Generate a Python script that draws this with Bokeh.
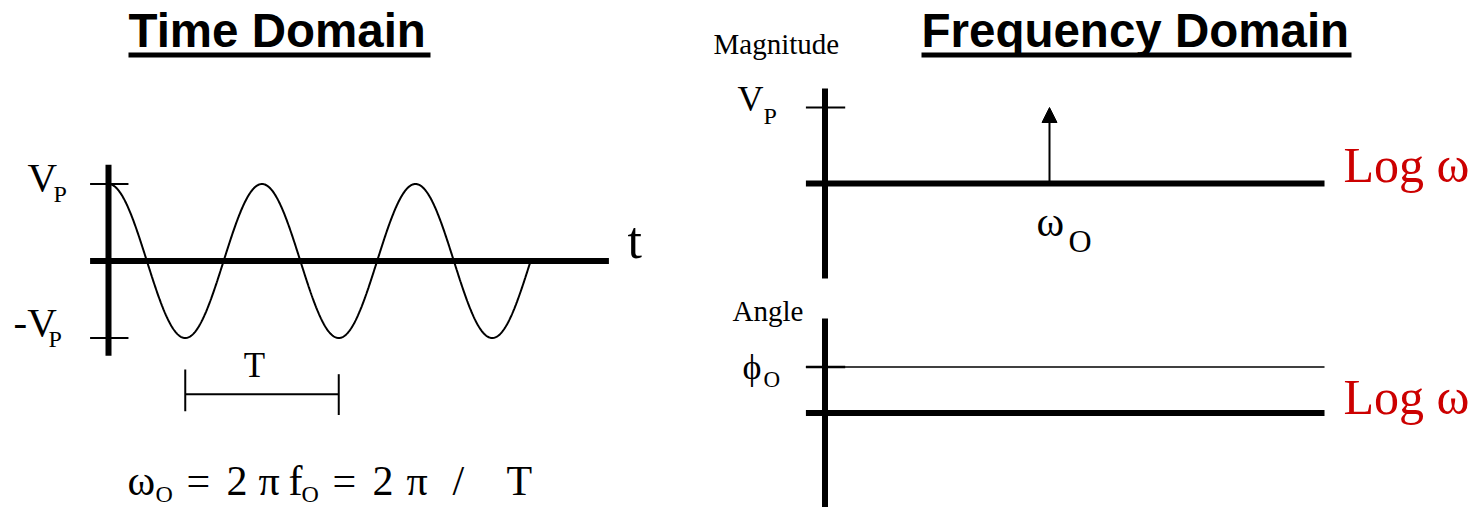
import numpy as np
from bokeh.plotting import figure
from bokeh.models import Range1d, Arrow, NormalHead
from bokeh.core.properties import value
from bokeh.embed import file_html
from bokeh.resources import INLINE

# ---------------- data (chart units) ----------------
VP = 1.0                  # peak amplitude
PERIOD = 1.0              # T
N_CYCLES = 2.75           # cycles drawn in the time domain
OMEGA_0_LOG = 2.0         # log10(omega_0): position of the spectral line
MAG_AT_OMEGA_0 = VP       # height of the spectral line
PHI_0 = 45.0              # constant phase angle (deg)

TITLES = ["Time Domain", "Frequency Domain"]
FORMULA_TOKENS = ["ω", "=", "2", "π", "f", "=", "2", "π", "/", "T"]
FORMULA_SUBS = ["O", "O"]

# ---------------- layout (page pixels) ----------------
W, H = 1477, 507
X0, X1, Y0, Y1 = 0, W, 0, H

def xr(origin, ppu):
    return Range1d(start=(X0 - origin) / ppu, end=(X1 - origin) / ppu)

def yr(origin, ppu):
    return Range1d(start=(origin - Y1) / ppu, end=(origin - Y0) / ppu)

p = figure(width=W, height=H, x_range=Range1d(X0, X1), y_range=Range1d(Y1, Y0),
           x_axis_type=None, y_axis_type=None, toolbar_location=None,
           output_backend="svg", min_border=0)
p.grid.visible = False
p.outline_line_color = None
p.background_fill_color = "white"
p.border_fill_color = "white"

p.extra_x_ranges = {"t": xr(108, 153.5), "lw": xr(824.5, 112.25)}
p.extra_y_ranges = {"v": yr(260.5, 77.0), "mag": yr(183.0, 76.0),
                    "ang": yr(412.5, 46.0 / 45.0)}

BLACK = "#000000"
RED = "#CC0000"
SERIF = value("Liberation Serif")
SANSB = value("Liberation Sans")
K_BASE = 0.38   # baseline compensation of the text renderer

# ---------------- time domain ----------------
t = np.linspace(0, N_CYCLES * PERIOD, 800)
v = VP * np.cos(2 * np.pi * t / PERIOD)
kw_t = dict(x_range_name="t", y_range_name="v", line_color=BLACK)
p.line([-0.12, 3.26], [0, 0], line_width=6, line_cap="butt", **kw_t)
p.line([0, 0], [-1.23, 1.25], line_width=6, line_cap="butt", **kw_t)
p.line([-0.12, 0.13], [VP, VP], line_width=2, **kw_t)
p.line([-0.12, 0.13], [-VP, -VP], line_width=2, **kw_t)
p.line(t, v, line_width=2, **kw_t)
# period bracket
p.line([0.5 * PERIOD, 1.5 * PERIOD], [-1.73, -1.73], line_width=2, **kw_t)
p.line([0.5 * PERIOD, 0.5 * PERIOD], [-1.41, -1.95], line_width=2, **kw_t)
p.line([1.5 * PERIOD, 1.5 * PERIOD], [-1.47, -2.0], line_width=2, **kw_t)

# ---------------- magnitude ----------------
kw_m = dict(x_range_name="lw", y_range_name="mag", line_color=BLACK)
p.line([-0.17, 4.45], [0, 0], line_width=6, line_cap="butt", **kw_m)
p.line([0, 0], [-1.25, 1.25], line_width=6, line_cap="butt", **kw_m)
p.line([-0.17, 0.18], [VP, VP], line_width=2, **kw_m)
p.add_layout(Arrow(x_start=OMEGA_0_LOG, y_start=0, x_end=OMEGA_0_LOG, y_end=MAG_AT_OMEGA_0,
                   x_range_name="lw", y_range_name="mag", line_width=2, line_color=BLACK,
                   end=NormalHead(size=15, fill_color=BLACK, line_color=BLACK, line_width=1)))

# ---------------- angle ----------------
kw_a = dict(x_range_name="lw", y_range_name="ang", line_color=BLACK)
p.line([0, 0], [-95, 92.4], line_width=6, line_cap="butt", **kw_a)
p.line([-0.17, 4.45], [0, 0], line_width=6, line_cap="butt", **kw_a)
p.line([-0.17, 4.45], [PHI_0, PHI_0], line_width=1.6, **kw_a)
p.line([-0.17, 0.18], [PHI_0, PHI_0], line_width=2.5, **kw_a)

# ---------------- texts ----------------
def txt(x, base, s, size, font=SERIF, color=BLACK, style="normal", align="left"):
    p.text(x=[x], y=[base - K_BASE * size], text=[s], text_font=font,
           text_font_size=value(f"{size}px"), text_color=color,
           text_font_style=style, text_align=align, text_baseline="alphabetic")

# titles + underlines
txt(128, 48, TITLES[0], 47.5, font=SANSB, style="bold")
txt(921, 48, TITLES[1], 47.5, font=SANSB, style="bold")
p.line([128, 430], [54.5, 54.5], line_width=5, line_color=BLACK)
p.line([921, 1351], [54.5, 54.5], line_width=5, line_color=BLACK)

# time-domain labels
txt(27, 192, "V", 41)
txt(53, 203, "P", 24)
txt(13, 337, "-V", 41)
txt(48, 348, "P", 24)
txt(627, 260, "t", 52)
txt(254, 378, "T", 35, align="center")

# formula
fx = [127, 186, 226, 258, 288, 332, 372, 406, 452, 506]
for xx, tok in zip(fx, FORMULA_TOKENS):
    txt(xx, 496, tok, 42)
txt(155, 503, FORMULA_SUBS[0], 24)
txt(301, 503, FORMULA_SUBS[1], 24)

# magnitude labels
txt(713, 55, "Magnitude", 29)
txt(737, 112, "V", 36)
txt(763, 125, "P", 24)
txt(1036, 237, "ω", 42)
txt(1068, 253, "O", 32)
txt(1343, 183, "Log ω", 50, color=RED)

# angle labels
txt(732, 322, "Angle", 29)
txt(742, 380, "ϕ", 36)
txt(763, 388, "O", 23)
txt(1343, 415, "Log ω", 50, color=RED)

open("out.html", "w").write(file_html(p, INLINE))
